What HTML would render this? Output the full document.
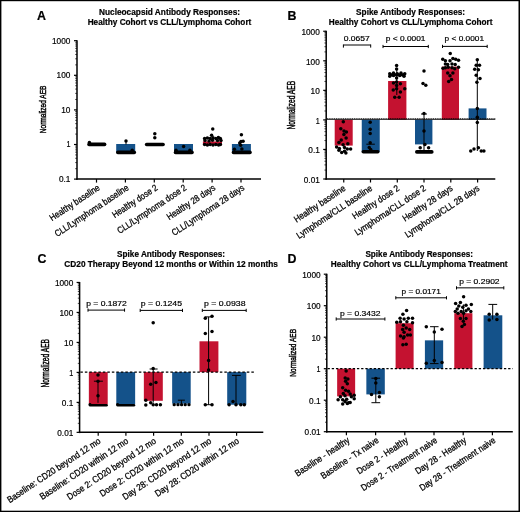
<!DOCTYPE html>
<html><head><meta charset="utf-8"><style>
html,body{margin:0;padding:0;background:#fff;width:520px;height:512px;overflow:hidden;}
svg{display:block;font-family:"Liberation Sans", sans-serif;will-change:transform;}
text{stroke:#000;stroke-width:0.18px;}
text[font-weight="bold"]{stroke-width:0.2px;}
g text{stroke-width:1.2px;}
text.xl{stroke-width:0.28px;}
</style></head><body>
<svg width="520" height="512" viewBox="0 0 520 512" font-family='"Liberation Sans", sans-serif'>
<rect x="0" y="0" width="520" height="512" fill="#fff"/>
<text x="169.5" y="15" font-size="8.6" text-anchor="middle" font-weight="bold" textLength="141" lengthAdjust="spacingAndGlyphs">Nucleocapsid Antibody Responses:</text>
<text x="169.5" y="24.9" font-size="8.6" text-anchor="middle" font-weight="bold" textLength="163.7" lengthAdjust="spacingAndGlyphs">Healthy Cohort vs CLL/Lymphoma Cohort</text>
<text x="37" y="20" font-size="12.4" text-anchor="start" font-weight="bold">A</text>
<line x1="77" y1="40.2" x2="77" y2="179.85" stroke="#000" stroke-width="1.5"/>
<line x1="76.25" y1="179.1" x2="261" y2="179.1" stroke="#000" stroke-width="1.5"/>
<line x1="74" y1="179.1" x2="77" y2="179.1" stroke="#000" stroke-width="1.2"/>
<line x1="75.2" y1="168.68" x2="77" y2="168.68" stroke="#000" stroke-width="0.7"/>
<line x1="75.2" y1="162.59" x2="77" y2="162.59" stroke="#000" stroke-width="0.7"/>
<line x1="75.2" y1="158.27" x2="77" y2="158.27" stroke="#000" stroke-width="0.7"/>
<line x1="75.2" y1="154.92" x2="77" y2="154.92" stroke="#000" stroke-width="0.7"/>
<line x1="75.2" y1="152.18" x2="77" y2="152.18" stroke="#000" stroke-width="0.7"/>
<line x1="75.2" y1="149.86" x2="77" y2="149.86" stroke="#000" stroke-width="0.7"/>
<line x1="75.2" y1="147.85" x2="77" y2="147.85" stroke="#000" stroke-width="0.7"/>
<line x1="75.2" y1="146.08" x2="77" y2="146.08" stroke="#000" stroke-width="0.7"/>
<line x1="74" y1="144.5" x2="77" y2="144.5" stroke="#000" stroke-width="1.2"/>
<line x1="75.2" y1="134.08" x2="77" y2="134.08" stroke="#000" stroke-width="0.7"/>
<line x1="75.2" y1="127.99" x2="77" y2="127.99" stroke="#000" stroke-width="0.7"/>
<line x1="75.2" y1="123.67" x2="77" y2="123.67" stroke="#000" stroke-width="0.7"/>
<line x1="75.2" y1="120.32" x2="77" y2="120.32" stroke="#000" stroke-width="0.7"/>
<line x1="75.2" y1="117.58" x2="77" y2="117.58" stroke="#000" stroke-width="0.7"/>
<line x1="75.2" y1="115.26" x2="77" y2="115.26" stroke="#000" stroke-width="0.7"/>
<line x1="75.2" y1="113.25" x2="77" y2="113.25" stroke="#000" stroke-width="0.7"/>
<line x1="75.2" y1="111.48" x2="77" y2="111.48" stroke="#000" stroke-width="0.7"/>
<line x1="74" y1="109.9" x2="77" y2="109.9" stroke="#000" stroke-width="1.2"/>
<line x1="75.2" y1="99.48" x2="77" y2="99.48" stroke="#000" stroke-width="0.7"/>
<line x1="75.2" y1="93.39" x2="77" y2="93.39" stroke="#000" stroke-width="0.7"/>
<line x1="75.2" y1="89.07" x2="77" y2="89.07" stroke="#000" stroke-width="0.7"/>
<line x1="75.2" y1="85.72" x2="77" y2="85.72" stroke="#000" stroke-width="0.7"/>
<line x1="75.2" y1="82.98" x2="77" y2="82.98" stroke="#000" stroke-width="0.7"/>
<line x1="75.2" y1="80.66" x2="77" y2="80.66" stroke="#000" stroke-width="0.7"/>
<line x1="75.2" y1="78.65" x2="77" y2="78.65" stroke="#000" stroke-width="0.7"/>
<line x1="75.2" y1="76.88" x2="77" y2="76.88" stroke="#000" stroke-width="0.7"/>
<line x1="74" y1="75.3" x2="77" y2="75.3" stroke="#000" stroke-width="1.2"/>
<line x1="75.2" y1="64.88" x2="77" y2="64.88" stroke="#000" stroke-width="0.7"/>
<line x1="75.2" y1="58.79" x2="77" y2="58.79" stroke="#000" stroke-width="0.7"/>
<line x1="75.2" y1="54.47" x2="77" y2="54.47" stroke="#000" stroke-width="0.7"/>
<line x1="75.2" y1="51.12" x2="77" y2="51.12" stroke="#000" stroke-width="0.7"/>
<line x1="75.2" y1="48.38" x2="77" y2="48.38" stroke="#000" stroke-width="0.7"/>
<line x1="75.2" y1="46.06" x2="77" y2="46.06" stroke="#000" stroke-width="0.7"/>
<line x1="75.2" y1="44.05" x2="77" y2="44.05" stroke="#000" stroke-width="0.7"/>
<line x1="75.2" y1="42.28" x2="77" y2="42.28" stroke="#000" stroke-width="0.7"/>
<line x1="74" y1="40.7" x2="77" y2="40.7" stroke="#000" stroke-width="1.2"/>
<line x1="96.5" y1="179.1" x2="96.5" y2="182.6" stroke="#000" stroke-width="1.2"/>
<line x1="125.4" y1="179.1" x2="125.4" y2="182.6" stroke="#000" stroke-width="1.2"/>
<line x1="154.3" y1="179.1" x2="154.3" y2="182.6" stroke="#000" stroke-width="1.2"/>
<line x1="183.2" y1="179.1" x2="183.2" y2="182.6" stroke="#000" stroke-width="1.2"/>
<line x1="212.1" y1="179.1" x2="212.1" y2="182.6" stroke="#000" stroke-width="1.2"/>
<line x1="241" y1="179.1" x2="241" y2="182.6" stroke="#000" stroke-width="1.2"/>
<text x="70.4" y="182.05" font-size="8.2" text-anchor="end" textLength="11.5" lengthAdjust="spacingAndGlyphs">0.1</text>
<text x="70.4" y="147.45" font-size="8.2" text-anchor="end" textLength="4" lengthAdjust="spacingAndGlyphs">1</text>
<text x="70.4" y="112.85" font-size="8.2" text-anchor="end" textLength="9.2" lengthAdjust="spacingAndGlyphs">10</text>
<text x="70.4" y="78.25" font-size="8.2" text-anchor="end" textLength="13.8" lengthAdjust="spacingAndGlyphs">100</text>
<text x="70.4" y="43.65" font-size="8.2" text-anchor="end" textLength="18.4" lengthAdjust="spacingAndGlyphs">1000</text>
<g transform="translate(45.8 109.4) scale(0.375 0.25) rotate(-90)"><text x="0" y="0" font-size="26.15" text-anchor="middle">Normalized AEB</text></g>
<text class="xl" x="0" y="0" font-size="9.2" text-anchor="end" textLength="58.04" lengthAdjust="spacingAndGlyphs" transform="translate(100.5 189.3) rotate(-33.5)">Healthy baseline</text>
<text class="xl" x="0" y="0" font-size="9.2" text-anchor="end" textLength="86.54" lengthAdjust="spacingAndGlyphs" transform="translate(129.4 189.3) rotate(-33.5)">CLL/Lymphoma baseline</text>
<text class="xl" x="0" y="0" font-size="9.2" text-anchor="end" textLength="52.36" lengthAdjust="spacingAndGlyphs" transform="translate(158.3 189.3) rotate(-33.5)">Healthy dose 2</text>
<text class="xl" x="0" y="0" font-size="9.2" text-anchor="end" textLength="80.87" lengthAdjust="spacingAndGlyphs" transform="translate(187.2 189.3) rotate(-33.5)">CLL/Lymphoma dose 2</text>
<text class="xl" x="0" y="0" font-size="9.2" text-anchor="end" textLength="56.29" lengthAdjust="spacingAndGlyphs" transform="translate(216.1 189.3) rotate(-33.5)">Healthy 28 days</text>
<text class="xl" x="0" y="0" font-size="9.2" text-anchor="end" textLength="84.79" lengthAdjust="spacingAndGlyphs" transform="translate(245 189.3) rotate(-33.5)">CLL/Lymphoma 28 days</text>
<line x1="89" y1="144.4" x2="104.6" y2="144.4" stroke="#000" stroke-width="3.6" stroke-linecap="round"/>
<circle cx="89.4" cy="142.6" r="1.75"/>
<rect x="116.2" y="144" width="19" height="8.4" fill="#14528a"/>
<line x1="117.8" y1="152.4" x2="134.3" y2="152.4" stroke="#000" stroke-width="3.6" stroke-linecap="round"/>
<circle cx="126" cy="141" r="1.75"/>
<circle cx="132.2" cy="150.2" r="1.75"/>
<line x1="126" y1="141" x2="126" y2="144.5" stroke="#000" stroke-width="1"/>
<line x1="146.6" y1="144.5" x2="163.1" y2="144.5" stroke="#000" stroke-width="3.6" stroke-linecap="round"/>
<circle cx="154.8" cy="133.7" r="1.75"/>
<circle cx="154.8" cy="137.75" r="1.75"/>
<rect x="174" y="144" width="19" height="8.4" fill="#14528a"/>
<line x1="175.5" y1="152.4" x2="192" y2="152.4" stroke="#000" stroke-width="3.6" stroke-linecap="round"/>
<circle cx="183.6" cy="146.5" r="1.75"/>
<circle cx="176" cy="150.2" r="1.75"/>
<circle cx="189.9" cy="150.2" r="1.75"/>
<rect x="202.9" y="141.4" width="19.1" height="3.1" fill="#c41230"/>
<circle cx="212.75" cy="129.1" r="1.75"/>
<circle cx="211.6" cy="135.25" r="1.75"/>
<circle cx="204.6" cy="138.4" r="1.75"/>
<circle cx="207.4" cy="138" r="1.75"/>
<circle cx="210.2" cy="138.6" r="1.75"/>
<circle cx="213" cy="137.8" r="1.75"/>
<circle cx="215.8" cy="138.4" r="1.75"/>
<circle cx="218.4" cy="137.6" r="1.75"/>
<circle cx="220.3" cy="138.6" r="1.75"/>
<circle cx="205" cy="140.6" r="1.75"/>
<circle cx="209" cy="141" r="1.75"/>
<circle cx="212.5" cy="140.2" r="1.75"/>
<circle cx="217.5" cy="140.6" r="1.75"/>
<circle cx="221" cy="140.4" r="1.75"/>
<circle cx="204.6" cy="144.6" r="1.75"/>
<circle cx="207.4" cy="145" r="1.75"/>
<circle cx="210.2" cy="144.4" r="1.75"/>
<circle cx="213" cy="145" r="1.75"/>
<circle cx="215.8" cy="144.5" r="1.75"/>
<circle cx="218.6" cy="145" r="1.75"/>
<circle cx="220.4" cy="144.5" r="1.75"/>
<rect x="231.9" y="144" width="19" height="8.4" fill="#14528a"/>
<line x1="233.5" y1="152.4" x2="250" y2="152.4" stroke="#000" stroke-width="3.6" stroke-linecap="round"/>
<circle cx="241.4" cy="134.75" r="1.75"/>
<circle cx="243.1" cy="141.2" r="1.75"/>
<circle cx="241" cy="141.5" r="1.75"/>
<circle cx="239.7" cy="143" r="1.75"/>
<circle cx="240.6" cy="145.25" r="1.75"/>
<circle cx="241.9" cy="149" r="1.75"/>
<circle cx="234.4" cy="149.3" r="1.75"/>
<text x="410.6" y="15.2" font-size="8.6" text-anchor="middle" font-weight="bold" textLength="109" lengthAdjust="spacingAndGlyphs">Spike Antibody Responses:</text>
<text x="410.6" y="24.9" font-size="8.6" text-anchor="middle" font-weight="bold" textLength="163.8" lengthAdjust="spacingAndGlyphs">Healthy Cohort vs CLL/Lymphoma Cohort</text>
<text x="287.6" y="19.6" font-size="12.4" text-anchor="start" font-weight="bold">B</text>
<line x1="326.2" y1="30.75" x2="326.2" y2="179.75" stroke="#000" stroke-width="1.5"/>
<line x1="325.45" y1="179" x2="495.3" y2="179" stroke="#000" stroke-width="1.5"/>
<line x1="323.2" y1="179" x2="326.2" y2="179" stroke="#000" stroke-width="1.2"/>
<line x1="324.4" y1="170.1" x2="326.2" y2="170.1" stroke="#000" stroke-width="0.7"/>
<line x1="324.4" y1="164.9" x2="326.2" y2="164.9" stroke="#000" stroke-width="0.7"/>
<line x1="324.4" y1="161.21" x2="326.2" y2="161.21" stroke="#000" stroke-width="0.7"/>
<line x1="324.4" y1="158.35" x2="326.2" y2="158.35" stroke="#000" stroke-width="0.7"/>
<line x1="324.4" y1="156.01" x2="326.2" y2="156.01" stroke="#000" stroke-width="0.7"/>
<line x1="324.4" y1="154.03" x2="326.2" y2="154.03" stroke="#000" stroke-width="0.7"/>
<line x1="324.4" y1="152.31" x2="326.2" y2="152.31" stroke="#000" stroke-width="0.7"/>
<line x1="324.4" y1="150.8" x2="326.2" y2="150.8" stroke="#000" stroke-width="0.7"/>
<line x1="323.2" y1="149.45" x2="326.2" y2="149.45" stroke="#000" stroke-width="1.2"/>
<line x1="324.4" y1="140.55" x2="326.2" y2="140.55" stroke="#000" stroke-width="0.7"/>
<line x1="324.4" y1="135.35" x2="326.2" y2="135.35" stroke="#000" stroke-width="0.7"/>
<line x1="324.4" y1="131.66" x2="326.2" y2="131.66" stroke="#000" stroke-width="0.7"/>
<line x1="324.4" y1="128.8" x2="326.2" y2="128.8" stroke="#000" stroke-width="0.7"/>
<line x1="324.4" y1="126.46" x2="326.2" y2="126.46" stroke="#000" stroke-width="0.7"/>
<line x1="324.4" y1="124.48" x2="326.2" y2="124.48" stroke="#000" stroke-width="0.7"/>
<line x1="324.4" y1="122.76" x2="326.2" y2="122.76" stroke="#000" stroke-width="0.7"/>
<line x1="324.4" y1="121.25" x2="326.2" y2="121.25" stroke="#000" stroke-width="0.7"/>
<line x1="323.2" y1="119.9" x2="326.2" y2="119.9" stroke="#000" stroke-width="1.2"/>
<line x1="324.4" y1="111" x2="326.2" y2="111" stroke="#000" stroke-width="0.7"/>
<line x1="324.4" y1="105.8" x2="326.2" y2="105.8" stroke="#000" stroke-width="0.7"/>
<line x1="324.4" y1="102.11" x2="326.2" y2="102.11" stroke="#000" stroke-width="0.7"/>
<line x1="324.4" y1="99.25" x2="326.2" y2="99.25" stroke="#000" stroke-width="0.7"/>
<line x1="324.4" y1="96.91" x2="326.2" y2="96.91" stroke="#000" stroke-width="0.7"/>
<line x1="324.4" y1="94.93" x2="326.2" y2="94.93" stroke="#000" stroke-width="0.7"/>
<line x1="324.4" y1="93.21" x2="326.2" y2="93.21" stroke="#000" stroke-width="0.7"/>
<line x1="324.4" y1="91.7" x2="326.2" y2="91.7" stroke="#000" stroke-width="0.7"/>
<line x1="323.2" y1="90.35" x2="326.2" y2="90.35" stroke="#000" stroke-width="1.2"/>
<line x1="324.4" y1="81.45" x2="326.2" y2="81.45" stroke="#000" stroke-width="0.7"/>
<line x1="324.4" y1="76.25" x2="326.2" y2="76.25" stroke="#000" stroke-width="0.7"/>
<line x1="324.4" y1="72.56" x2="326.2" y2="72.56" stroke="#000" stroke-width="0.7"/>
<line x1="324.4" y1="69.7" x2="326.2" y2="69.7" stroke="#000" stroke-width="0.7"/>
<line x1="324.4" y1="67.36" x2="326.2" y2="67.36" stroke="#000" stroke-width="0.7"/>
<line x1="324.4" y1="65.38" x2="326.2" y2="65.38" stroke="#000" stroke-width="0.7"/>
<line x1="324.4" y1="63.66" x2="326.2" y2="63.66" stroke="#000" stroke-width="0.7"/>
<line x1="324.4" y1="62.15" x2="326.2" y2="62.15" stroke="#000" stroke-width="0.7"/>
<line x1="323.2" y1="60.8" x2="326.2" y2="60.8" stroke="#000" stroke-width="1.2"/>
<line x1="324.4" y1="51.9" x2="326.2" y2="51.9" stroke="#000" stroke-width="0.7"/>
<line x1="324.4" y1="46.7" x2="326.2" y2="46.7" stroke="#000" stroke-width="0.7"/>
<line x1="324.4" y1="43.01" x2="326.2" y2="43.01" stroke="#000" stroke-width="0.7"/>
<line x1="324.4" y1="40.15" x2="326.2" y2="40.15" stroke="#000" stroke-width="0.7"/>
<line x1="324.4" y1="37.81" x2="326.2" y2="37.81" stroke="#000" stroke-width="0.7"/>
<line x1="324.4" y1="35.83" x2="326.2" y2="35.83" stroke="#000" stroke-width="0.7"/>
<line x1="324.4" y1="34.11" x2="326.2" y2="34.11" stroke="#000" stroke-width="0.7"/>
<line x1="324.4" y1="32.6" x2="326.2" y2="32.6" stroke="#000" stroke-width="0.7"/>
<line x1="323.2" y1="31.25" x2="326.2" y2="31.25" stroke="#000" stroke-width="1.2"/>
<line x1="343.75" y1="179" x2="343.75" y2="182.5" stroke="#000" stroke-width="1.2"/>
<line x1="370.5" y1="179" x2="370.5" y2="182.5" stroke="#000" stroke-width="1.2"/>
<line x1="397.3" y1="179" x2="397.3" y2="182.5" stroke="#000" stroke-width="1.2"/>
<line x1="424" y1="179" x2="424" y2="182.5" stroke="#000" stroke-width="1.2"/>
<line x1="450.8" y1="179" x2="450.8" y2="182.5" stroke="#000" stroke-width="1.2"/>
<line x1="477.6" y1="179" x2="477.6" y2="182.5" stroke="#000" stroke-width="1.2"/>
<text x="319.8" y="182.85" font-size="8.2" text-anchor="end" textLength="16" lengthAdjust="spacingAndGlyphs">0.01</text>
<text x="319.8" y="153.3" font-size="8.2" text-anchor="end" textLength="11.5" lengthAdjust="spacingAndGlyphs">0.1</text>
<text x="319.8" y="123.75" font-size="8.2" text-anchor="end" textLength="4" lengthAdjust="spacingAndGlyphs">1</text>
<text x="319.8" y="94.2" font-size="8.2" text-anchor="end" textLength="9.2" lengthAdjust="spacingAndGlyphs">10</text>
<text x="319.8" y="64.65" font-size="8.2" text-anchor="end" textLength="13.8" lengthAdjust="spacingAndGlyphs">100</text>
<text x="319.8" y="35.1" font-size="8.2" text-anchor="end" textLength="18.4" lengthAdjust="spacingAndGlyphs">1000</text>
<g transform="translate(294.85 105.1) scale(0.375 0.25) rotate(-90)"><text x="0" y="0" font-size="26.81" text-anchor="middle">Normalized AEB</text></g>
<text class="xl" x="0" y="0" font-size="9.2" text-anchor="end" textLength="59.88" lengthAdjust="spacingAndGlyphs" transform="translate(346.35 189.8) rotate(-33.5)">Healthy baseline</text>
<text class="xl" x="0" y="0" font-size="9.2" text-anchor="end" textLength="89" lengthAdjust="spacingAndGlyphs" transform="translate(373.1 189.8) rotate(-33.5)">Lymphoma/CLL baseline</text>
<text class="xl" x="0" y="0" font-size="9.2" text-anchor="end" textLength="54.03" lengthAdjust="spacingAndGlyphs" transform="translate(399.9 189.8) rotate(-33.5)">Healthy dose 2</text>
<text class="xl" x="0" y="0" font-size="9.2" text-anchor="end" textLength="83.14" lengthAdjust="spacingAndGlyphs" transform="translate(426.6 189.8) rotate(-33.5)">Lymphoma/CLL dose 2</text>
<text class="xl" x="0" y="0" font-size="9.2" text-anchor="end" textLength="58.08" lengthAdjust="spacingAndGlyphs" transform="translate(453.4 189.8) rotate(-33.5)">Healthy 28 days</text>
<text class="xl" x="0" y="0" font-size="9.2" text-anchor="end" textLength="87.19" lengthAdjust="spacingAndGlyphs" transform="translate(480.2 189.8) rotate(-33.5)">Lymphoma/CLL 28 days</text>
<rect x="334.7" y="119.7" width="18" height="25.9" fill="#c41230"/>
<circle cx="343.3" cy="121.7" r="1.75"/>
<circle cx="340.8" cy="128.75" r="1.75"/>
<circle cx="344" cy="131.1" r="1.75"/>
<circle cx="346.4" cy="132" r="1.75"/>
<circle cx="343.9" cy="134.4" r="1.75"/>
<circle cx="346.1" cy="138.1" r="1.75"/>
<circle cx="341.25" cy="140" r="1.75"/>
<circle cx="338.9" cy="142.6" r="1.75"/>
<circle cx="347.8" cy="143.75" r="1.75"/>
<circle cx="343.1" cy="144.7" r="1.75"/>
<circle cx="336.6" cy="147" r="1.75"/>
<circle cx="339.4" cy="148.4" r="1.75"/>
<circle cx="344.5" cy="147.5" r="1.75"/>
<circle cx="347.3" cy="148.9" r="1.75"/>
<circle cx="350.6" cy="148.9" r="1.75"/>
<circle cx="338.9" cy="150.3" r="1.75"/>
<circle cx="341.7" cy="152.6" r="1.75"/>
<circle cx="345.9" cy="153.1" r="1.75"/>
<circle cx="344.5" cy="151.25" r="1.75"/>
<rect x="361.75" y="119.7" width="18" height="32" fill="#14528a"/>
<circle cx="370.2" cy="122.2" r="1.75"/>
<circle cx="370.2" cy="129.2" r="1.75"/>
<circle cx="370.2" cy="133.4" r="1.75"/>
<circle cx="370.2" cy="142.8" r="1.75"/>
<circle cx="369.25" cy="147.5" r="1.75"/>
<circle cx="370.7" cy="149.4" r="1.75"/>
<line x1="366.35" y1="144.2" x2="374.85" y2="144.2" stroke="#000" stroke-width="1"/>
<line x1="363.3" y1="151.7" x2="377.8" y2="151.7" stroke="#000" stroke-width="3.6" stroke-linecap="round"/>
<rect x="388.1" y="81" width="18.3" height="38.7" fill="#c41230"/>
<line x1="396.8" y1="70" x2="396.8" y2="95" stroke="#000" stroke-width="1"/>
<line x1="390.5" y1="74.8" x2="404" y2="74.8" stroke="#000" stroke-width="3" stroke-linecap="round"/>
<circle cx="396.6" cy="65.6" r="1.75"/>
<circle cx="396.6" cy="69" r="1.75"/>
<circle cx="389.75" cy="73.75" r="1.75"/>
<circle cx="393.5" cy="73.1" r="1.75"/>
<circle cx="397.25" cy="73.75" r="1.75"/>
<circle cx="401" cy="73.1" r="1.75"/>
<circle cx="404.75" cy="73.75" r="1.75"/>
<circle cx="389.75" cy="76.25" r="1.75"/>
<circle cx="393.5" cy="75.6" r="1.75"/>
<circle cx="399.75" cy="75.6" r="1.75"/>
<circle cx="404" cy="76.25" r="1.75"/>
<circle cx="396.6" cy="78.1" r="1.75"/>
<circle cx="393.5" cy="83.1" r="1.75"/>
<circle cx="396.6" cy="81.9" r="1.75"/>
<circle cx="400.4" cy="83.75" r="1.75"/>
<circle cx="396.6" cy="85.6" r="1.75"/>
<circle cx="396.6" cy="88.75" r="1.75"/>
<circle cx="393.25" cy="90" r="1.75"/>
<circle cx="404.75" cy="88.75" r="1.75"/>
<circle cx="400.4" cy="91.9" r="1.75"/>
<circle cx="394.75" cy="97.25" r="1.75"/>
<circle cx="399.1" cy="97.25" r="1.75"/>
<rect x="415" y="119.7" width="17.4" height="24.7" fill="#14528a"/>
<line x1="424" y1="112.5" x2="424" y2="151.9" stroke="#000" stroke-width="1"/>
<line x1="421" y1="114" x2="427" y2="114" stroke="#000" stroke-width="1"/>
<circle cx="424" cy="70.9" r="1.75"/>
<circle cx="423" cy="83.4" r="1.75"/>
<circle cx="425.8" cy="85.3" r="1.75"/>
<circle cx="424" cy="113.4" r="1.75"/>
<circle cx="424" cy="130.9" r="1.75"/>
<circle cx="424.9" cy="144.4" r="1.75"/>
<circle cx="420.2" cy="147.75" r="1.75"/>
<circle cx="428.6" cy="147.75" r="1.75"/>
<line x1="416.8" y1="151.9" x2="431.8" y2="151.9" stroke="#000" stroke-width="3.6" stroke-linecap="round"/>
<rect x="441.8" y="66.6" width="17.2" height="53.1" fill="#c41230"/>
<circle cx="450.25" cy="53.4" r="1.75"/>
<circle cx="442.75" cy="59.3" r="1.75"/>
<circle cx="445.4" cy="60.75" r="1.75"/>
<circle cx="452.9" cy="58.4" r="1.75"/>
<circle cx="455.7" cy="59.3" r="1.75"/>
<circle cx="458.5" cy="60.3" r="1.75"/>
<circle cx="450" cy="60.75" r="1.75"/>
<circle cx="445.4" cy="64" r="1.75"/>
<circle cx="447.7" cy="64.5" r="1.75"/>
<circle cx="452" cy="64" r="1.75"/>
<circle cx="455.2" cy="64.5" r="1.75"/>
<circle cx="443" cy="68.25" r="1.75"/>
<circle cx="445.4" cy="67.8" r="1.75"/>
<circle cx="448.2" cy="67.3" r="1.75"/>
<circle cx="452" cy="67.8" r="1.75"/>
<circle cx="454.75" cy="68.7" r="1.75"/>
<circle cx="458.5" cy="67.3" r="1.75"/>
<circle cx="447.7" cy="73" r="1.75"/>
<circle cx="452.9" cy="73" r="1.75"/>
<circle cx="450" cy="75.75" r="1.75"/>
<circle cx="451.5" cy="79.5" r="1.75"/>
<circle cx="448.7" cy="81.4" r="1.75"/>
<rect x="468.6" y="108.4" width="17.9" height="11.3" fill="#14528a"/>
<line x1="477.3" y1="59.8" x2="477.3" y2="151" stroke="#000" stroke-width="1"/>
<circle cx="477.3" cy="59.8" r="1.75"/>
<circle cx="476.2" cy="65.3" r="1.75"/>
<circle cx="479.5" cy="65.3" r="1.75"/>
<circle cx="474.7" cy="69.25" r="1.75"/>
<circle cx="478.4" cy="69.7" r="1.75"/>
<circle cx="476.2" cy="75.2" r="1.75"/>
<circle cx="480" cy="78.4" r="1.75"/>
<circle cx="476.9" cy="82.2" r="1.75"/>
<circle cx="477.3" cy="108.4" r="1.75"/>
<circle cx="477.3" cy="117.2" r="1.75"/>
<circle cx="477.3" cy="122.6" r="1.75"/>
<circle cx="470.75" cy="151" r="1.75"/>
<circle cx="474" cy="148.9" r="1.75"/>
<circle cx="478.4" cy="147.8" r="1.75"/>
<circle cx="481.25" cy="151" r="1.75"/>
<circle cx="483.9" cy="151" r="1.75"/>
<line x1="326.95" y1="119.3" x2="495.3" y2="119.3" stroke="#000" stroke-width="0.9" stroke-dasharray="none"/>
<line x1="326.95" y1="118.7" x2="495.3" y2="118.7" stroke="#000" stroke-width="0.9" stroke-dasharray="0.9 0.9"/>
<line x1="343.4" y1="45" x2="370.7" y2="45" stroke="#000" stroke-width="1"/>
<line x1="343.4" y1="44.5" x2="343.4" y2="47.6" stroke="#000" stroke-width="1"/>
<line x1="370.7" y1="44.5" x2="370.7" y2="47.6" stroke="#000" stroke-width="1"/>
<text x="356.77" y="41.3" font-size="6.9" text-anchor="middle" textLength="26.05" lengthAdjust="spacingAndGlyphs">0.0657</text>
<line x1="383" y1="46.5" x2="428.3" y2="46.5" stroke="#000" stroke-width="1"/>
<line x1="383" y1="44.9" x2="383" y2="48.1" stroke="#000" stroke-width="1"/>
<line x1="428.3" y1="44.9" x2="428.3" y2="48.1" stroke="#000" stroke-width="1"/>
<text x="405.65" y="41.3" font-size="6.9" text-anchor="middle" textLength="39.7" lengthAdjust="spacingAndGlyphs">p &lt; 0.0001</text>
<line x1="442.5" y1="46.4" x2="487.2" y2="46.4" stroke="#000" stroke-width="1"/>
<line x1="442.5" y1="44.8" x2="442.5" y2="48" stroke="#000" stroke-width="1"/>
<line x1="487.2" y1="44.8" x2="487.2" y2="48" stroke="#000" stroke-width="1"/>
<text x="464.3" y="41.3" font-size="6.9" text-anchor="middle" textLength="39.4" lengthAdjust="spacingAndGlyphs">p &lt; 0.0001</text>
<text x="171.1" y="257" font-size="8.6" text-anchor="middle" font-weight="bold" textLength="108" lengthAdjust="spacingAndGlyphs">Spike Antibody Responses:</text>
<text x="171.1" y="266.8" font-size="8.6" text-anchor="middle" font-weight="bold" textLength="213.5" lengthAdjust="spacingAndGlyphs">CD20 Therapy Beyond 12 months or Within 12 months</text>
<text x="37.6" y="262.6" font-size="12.4" text-anchor="start" font-weight="bold">C</text>
<line x1="79.6" y1="281.96" x2="79.6" y2="433.11" stroke="#000" stroke-width="1.5"/>
<line x1="78.85" y1="432.36" x2="263.3" y2="432.36" stroke="#000" stroke-width="1.5"/>
<line x1="76.6" y1="432.36" x2="79.6" y2="432.36" stroke="#000" stroke-width="1.2"/>
<line x1="77.8" y1="423.34" x2="79.6" y2="423.34" stroke="#000" stroke-width="0.7"/>
<line x1="77.8" y1="418.06" x2="79.6" y2="418.06" stroke="#000" stroke-width="0.7"/>
<line x1="77.8" y1="414.31" x2="79.6" y2="414.31" stroke="#000" stroke-width="0.7"/>
<line x1="77.8" y1="411.4" x2="79.6" y2="411.4" stroke="#000" stroke-width="0.7"/>
<line x1="77.8" y1="409.03" x2="79.6" y2="409.03" stroke="#000" stroke-width="0.7"/>
<line x1="77.8" y1="407.02" x2="79.6" y2="407.02" stroke="#000" stroke-width="0.7"/>
<line x1="77.8" y1="405.29" x2="79.6" y2="405.29" stroke="#000" stroke-width="0.7"/>
<line x1="77.8" y1="403.75" x2="79.6" y2="403.75" stroke="#000" stroke-width="0.7"/>
<line x1="76.6" y1="402.38" x2="79.6" y2="402.38" stroke="#000" stroke-width="1.2"/>
<line x1="77.8" y1="393.36" x2="79.6" y2="393.36" stroke="#000" stroke-width="0.7"/>
<line x1="77.8" y1="388.08" x2="79.6" y2="388.08" stroke="#000" stroke-width="0.7"/>
<line x1="77.8" y1="384.33" x2="79.6" y2="384.33" stroke="#000" stroke-width="0.7"/>
<line x1="77.8" y1="381.42" x2="79.6" y2="381.42" stroke="#000" stroke-width="0.7"/>
<line x1="77.8" y1="379.05" x2="79.6" y2="379.05" stroke="#000" stroke-width="0.7"/>
<line x1="77.8" y1="377.04" x2="79.6" y2="377.04" stroke="#000" stroke-width="0.7"/>
<line x1="77.8" y1="375.31" x2="79.6" y2="375.31" stroke="#000" stroke-width="0.7"/>
<line x1="77.8" y1="373.77" x2="79.6" y2="373.77" stroke="#000" stroke-width="0.7"/>
<line x1="76.6" y1="372.4" x2="79.6" y2="372.4" stroke="#000" stroke-width="1.2"/>
<line x1="77.8" y1="363.38" x2="79.6" y2="363.38" stroke="#000" stroke-width="0.7"/>
<line x1="77.8" y1="358.1" x2="79.6" y2="358.1" stroke="#000" stroke-width="0.7"/>
<line x1="77.8" y1="354.35" x2="79.6" y2="354.35" stroke="#000" stroke-width="0.7"/>
<line x1="77.8" y1="351.44" x2="79.6" y2="351.44" stroke="#000" stroke-width="0.7"/>
<line x1="77.8" y1="349.07" x2="79.6" y2="349.07" stroke="#000" stroke-width="0.7"/>
<line x1="77.8" y1="347.06" x2="79.6" y2="347.06" stroke="#000" stroke-width="0.7"/>
<line x1="77.8" y1="345.33" x2="79.6" y2="345.33" stroke="#000" stroke-width="0.7"/>
<line x1="77.8" y1="343.79" x2="79.6" y2="343.79" stroke="#000" stroke-width="0.7"/>
<line x1="76.6" y1="342.42" x2="79.6" y2="342.42" stroke="#000" stroke-width="1.2"/>
<line x1="77.8" y1="333.4" x2="79.6" y2="333.4" stroke="#000" stroke-width="0.7"/>
<line x1="77.8" y1="328.12" x2="79.6" y2="328.12" stroke="#000" stroke-width="0.7"/>
<line x1="77.8" y1="324.37" x2="79.6" y2="324.37" stroke="#000" stroke-width="0.7"/>
<line x1="77.8" y1="321.46" x2="79.6" y2="321.46" stroke="#000" stroke-width="0.7"/>
<line x1="77.8" y1="319.09" x2="79.6" y2="319.09" stroke="#000" stroke-width="0.7"/>
<line x1="77.8" y1="317.08" x2="79.6" y2="317.08" stroke="#000" stroke-width="0.7"/>
<line x1="77.8" y1="315.35" x2="79.6" y2="315.35" stroke="#000" stroke-width="0.7"/>
<line x1="77.8" y1="313.81" x2="79.6" y2="313.81" stroke="#000" stroke-width="0.7"/>
<line x1="76.6" y1="312.44" x2="79.6" y2="312.44" stroke="#000" stroke-width="1.2"/>
<line x1="77.8" y1="303.42" x2="79.6" y2="303.42" stroke="#000" stroke-width="0.7"/>
<line x1="77.8" y1="298.14" x2="79.6" y2="298.14" stroke="#000" stroke-width="0.7"/>
<line x1="77.8" y1="294.39" x2="79.6" y2="294.39" stroke="#000" stroke-width="0.7"/>
<line x1="77.8" y1="291.48" x2="79.6" y2="291.48" stroke="#000" stroke-width="0.7"/>
<line x1="77.8" y1="289.11" x2="79.6" y2="289.11" stroke="#000" stroke-width="0.7"/>
<line x1="77.8" y1="287.1" x2="79.6" y2="287.1" stroke="#000" stroke-width="0.7"/>
<line x1="77.8" y1="285.37" x2="79.6" y2="285.37" stroke="#000" stroke-width="0.7"/>
<line x1="77.8" y1="283.83" x2="79.6" y2="283.83" stroke="#000" stroke-width="0.7"/>
<line x1="76.6" y1="282.46" x2="79.6" y2="282.46" stroke="#000" stroke-width="1.2"/>
<line x1="98.2" y1="432.36" x2="98.2" y2="435.86" stroke="#000" stroke-width="1.2"/>
<line x1="125.9" y1="432.36" x2="125.9" y2="435.86" stroke="#000" stroke-width="1.2"/>
<line x1="153.6" y1="432.36" x2="153.6" y2="435.86" stroke="#000" stroke-width="1.2"/>
<line x1="181.3" y1="432.36" x2="181.3" y2="435.86" stroke="#000" stroke-width="1.2"/>
<line x1="209" y1="432.36" x2="209" y2="435.86" stroke="#000" stroke-width="1.2"/>
<line x1="236.6" y1="432.36" x2="236.6" y2="435.86" stroke="#000" stroke-width="1.2"/>
<text x="73.3" y="436.21" font-size="8.2" text-anchor="end" textLength="16" lengthAdjust="spacingAndGlyphs">0.01</text>
<text x="73.3" y="406.23" font-size="8.2" text-anchor="end" textLength="11.5" lengthAdjust="spacingAndGlyphs">0.1</text>
<text x="73.3" y="376.25" font-size="8.2" text-anchor="end" textLength="4" lengthAdjust="spacingAndGlyphs">1</text>
<text x="73.3" y="346.27" font-size="8.2" text-anchor="end" textLength="9.2" lengthAdjust="spacingAndGlyphs">10</text>
<text x="73.3" y="316.29" font-size="8.2" text-anchor="end" textLength="13.8" lengthAdjust="spacingAndGlyphs">100</text>
<text x="73.3" y="286.31" font-size="8.2" text-anchor="end" textLength="18.4" lengthAdjust="spacingAndGlyphs">1000</text>
<g transform="translate(49.45 363.2) scale(0.375 0.25) rotate(-90)"><text x="0" y="0" font-size="26.65" text-anchor="middle">Normalized AEB</text></g>
<text class="xl" x="0" y="0" font-size="9.2" text-anchor="end" textLength="109.86" lengthAdjust="spacingAndGlyphs" transform="translate(101.3 442.56) rotate(-33.5)">Baseline: CD20 beyond 12 mo</text>
<text class="xl" x="0" y="0" font-size="9.2" text-anchor="end" textLength="104" lengthAdjust="spacingAndGlyphs" transform="translate(129 442.56) rotate(-33.5)">Baseline: CD20 within 12 mo</text>
<text class="xl" x="0" y="0" font-size="9.2" text-anchor="end" textLength="104.45" lengthAdjust="spacingAndGlyphs" transform="translate(156.7 442.56) rotate(-33.5)">Dose 2: CD20 beyond 12 mo</text>
<text class="xl" x="0" y="0" font-size="9.2" text-anchor="end" textLength="98.59" lengthAdjust="spacingAndGlyphs" transform="translate(184.4 442.56) rotate(-33.5)">Dose 2: CD20 within 12 mo</text>
<text class="xl" x="0" y="0" font-size="9.2" text-anchor="end" textLength="104.45" lengthAdjust="spacingAndGlyphs" transform="translate(212.1 442.56) rotate(-33.5)">Day 28: CD20 beyond 12 mo</text>
<text class="xl" x="0" y="0" font-size="9.2" text-anchor="end" textLength="98.59" lengthAdjust="spacingAndGlyphs" transform="translate(239.7 442.56) rotate(-33.5)">Day 28: CD20 within 12 mo</text>
<rect x="88.85" y="372.1" width="18.85" height="32.4" fill="#c41230"/>
<line x1="98" y1="381.2" x2="98" y2="402.8" stroke="#000" stroke-width="1"/>
<line x1="93.9" y1="381.2" x2="102.9" y2="381.2" stroke="#000" stroke-width="1"/>
<circle cx="98" cy="375" r="1.75"/>
<circle cx="98" cy="381.2" r="1.75"/>
<circle cx="98" cy="395.8" r="1.75"/>
<circle cx="90" cy="404.3" r="1.4"/>
<line x1="90" y1="405.3" x2="106.6" y2="405.3" stroke="#000" stroke-width="2.4" stroke-linecap="round"/>
<rect x="116.3" y="372.1" width="18.85" height="32.4" fill="#14528a"/>
<circle cx="117.6" cy="404.3" r="1.4"/>
<line x1="117.6" y1="405.3" x2="134" y2="405.3" stroke="#000" stroke-width="2.4" stroke-linecap="round"/>
<rect x="143.85" y="372.1" width="18.95" height="28.7" fill="#c41230"/>
<line x1="153.2" y1="368.6" x2="153.2" y2="402.7" stroke="#000" stroke-width="1"/>
<line x1="149.6" y1="369" x2="157.6" y2="369" stroke="#000" stroke-width="1"/>
<circle cx="153.2" cy="322.7" r="1.75"/>
<circle cx="153.2" cy="368.6" r="1.75"/>
<circle cx="150.7" cy="384.2" r="1.75"/>
<circle cx="155.95" cy="382.6" r="1.75"/>
<circle cx="145.8" cy="400.2" r="1.75"/>
<circle cx="145.8" cy="405.1" r="1.75"/>
<circle cx="150.7" cy="402.7" r="1.75"/>
<circle cx="156.5" cy="404.7" r="1.75"/>
<circle cx="160.4" cy="404.7" r="1.75"/>
<circle cx="153.2" cy="404.7" r="1.75"/>
<rect x="172.15" y="372.1" width="18.55" height="31.6" fill="#14528a"/>
<line x1="177.9" y1="400.2" x2="184.9" y2="400.2" stroke="#000" stroke-width="1"/>
<line x1="181.4" y1="400.2" x2="181.4" y2="404" stroke="#000" stroke-width="1"/>
<circle cx="174.2" cy="404.7" r="1.65"/>
<circle cx="178" cy="404.7" r="1.65"/>
<circle cx="181.6" cy="404.7" r="1.65"/>
<circle cx="185.2" cy="404.7" r="1.65"/>
<circle cx="189" cy="404.7" r="1.65"/>
<rect x="199.5" y="341.3" width="18.9" height="30.8" fill="#c41230"/>
<line x1="208.6" y1="316.9" x2="208.6" y2="404.7" stroke="#000" stroke-width="1"/>
<line x1="204.6" y1="316.9" x2="212.6" y2="316.9" stroke="#000" stroke-width="1"/>
<line x1="204.6" y1="404.7" x2="212.6" y2="404.7" stroke="#000" stroke-width="1"/>
<circle cx="205.3" cy="318.2" r="1.75"/>
<circle cx="212" cy="316.3" r="1.75"/>
<circle cx="205.3" cy="333.5" r="1.75"/>
<circle cx="212" cy="331.5" r="1.75"/>
<circle cx="208.6" cy="360.4" r="1.75"/>
<circle cx="208.6" cy="370.1" r="1.75"/>
<circle cx="205.3" cy="404.7" r="1.75"/>
<circle cx="212" cy="404.7" r="1.75"/>
<rect x="227.2" y="372.1" width="19.1" height="32.6" fill="#14528a"/>
<line x1="236" y1="375.4" x2="236" y2="403.7" stroke="#000" stroke-width="1"/>
<line x1="232" y1="375.4" x2="240.8" y2="375.4" stroke="#000" stroke-width="1"/>
<circle cx="233" cy="401.4" r="1.75"/>
<circle cx="229.1" cy="404.7" r="1.75"/>
<circle cx="236" cy="404.7" r="1.75"/>
<circle cx="240.8" cy="404.7" r="1.75"/>
<circle cx="244.3" cy="404.7" r="1.75"/>
<line x1="80.35" y1="372.1" x2="255" y2="372.1" stroke="#000" stroke-width="1.3" stroke-dasharray="2.5 2"/>
<line x1="88" y1="310.1" x2="124.55" y2="310.1" stroke="#000" stroke-width="1"/>
<line x1="88" y1="308.5" x2="88" y2="311.7" stroke="#000" stroke-width="1"/>
<line x1="124.55" y1="308.5" x2="124.55" y2="311.7" stroke="#000" stroke-width="1"/>
<text x="106.47" y="305.6" font-size="6.9" text-anchor="middle" textLength="40.65" lengthAdjust="spacingAndGlyphs">p = 0.1872</text>
<line x1="140.2" y1="310.4" x2="182.5" y2="310.4" stroke="#000" stroke-width="1"/>
<line x1="140.2" y1="308.8" x2="140.2" y2="312" stroke="#000" stroke-width="1"/>
<line x1="182.5" y1="308.8" x2="182.5" y2="312" stroke="#000" stroke-width="1"/>
<text x="161.35" y="305.9" font-size="6.9" text-anchor="middle" textLength="41.3" lengthAdjust="spacingAndGlyphs">p = 0.1245</text>
<line x1="202.3" y1="310.4" x2="246.2" y2="310.4" stroke="#000" stroke-width="1"/>
<line x1="202.3" y1="308.8" x2="202.3" y2="312" stroke="#000" stroke-width="1"/>
<line x1="246.2" y1="308.8" x2="246.2" y2="312" stroke="#000" stroke-width="1"/>
<text x="224.8" y="305.9" font-size="6.9" text-anchor="middle" textLength="41.4" lengthAdjust="spacingAndGlyphs">p = 0.0938</text>
<text x="419.2" y="257" font-size="8.6" text-anchor="middle" font-weight="bold" textLength="107.5" lengthAdjust="spacingAndGlyphs">Spike Antibody Responses:</text>
<text x="419.2" y="266.8" font-size="8.6" text-anchor="middle" font-weight="bold" textLength="176.75" lengthAdjust="spacingAndGlyphs">Healthy Cohort vs CLL/Lymphoma Treatment</text>
<text x="287.6" y="262.8" font-size="12.4" text-anchor="start" font-weight="bold">D</text>
<line x1="326.8" y1="273.7" x2="326.8" y2="432.45" stroke="#000" stroke-width="1.5"/>
<line x1="326.05" y1="431.7" x2="512.8" y2="431.7" stroke="#000" stroke-width="1.5"/>
<line x1="323.8" y1="431.7" x2="326.8" y2="431.7" stroke="#000" stroke-width="1.2"/>
<line x1="325" y1="422.22" x2="326.8" y2="422.22" stroke="#000" stroke-width="0.7"/>
<line x1="325" y1="416.67" x2="326.8" y2="416.67" stroke="#000" stroke-width="0.7"/>
<line x1="325" y1="412.74" x2="326.8" y2="412.74" stroke="#000" stroke-width="0.7"/>
<line x1="325" y1="409.68" x2="326.8" y2="409.68" stroke="#000" stroke-width="0.7"/>
<line x1="325" y1="407.19" x2="326.8" y2="407.19" stroke="#000" stroke-width="0.7"/>
<line x1="325" y1="405.08" x2="326.8" y2="405.08" stroke="#000" stroke-width="0.7"/>
<line x1="325" y1="403.25" x2="326.8" y2="403.25" stroke="#000" stroke-width="0.7"/>
<line x1="325" y1="401.64" x2="326.8" y2="401.64" stroke="#000" stroke-width="0.7"/>
<line x1="323.8" y1="400.2" x2="326.8" y2="400.2" stroke="#000" stroke-width="1.2"/>
<line x1="325" y1="390.72" x2="326.8" y2="390.72" stroke="#000" stroke-width="0.7"/>
<line x1="325" y1="385.17" x2="326.8" y2="385.17" stroke="#000" stroke-width="0.7"/>
<line x1="325" y1="381.24" x2="326.8" y2="381.24" stroke="#000" stroke-width="0.7"/>
<line x1="325" y1="378.18" x2="326.8" y2="378.18" stroke="#000" stroke-width="0.7"/>
<line x1="325" y1="375.69" x2="326.8" y2="375.69" stroke="#000" stroke-width="0.7"/>
<line x1="325" y1="373.58" x2="326.8" y2="373.58" stroke="#000" stroke-width="0.7"/>
<line x1="325" y1="371.75" x2="326.8" y2="371.75" stroke="#000" stroke-width="0.7"/>
<line x1="325" y1="370.14" x2="326.8" y2="370.14" stroke="#000" stroke-width="0.7"/>
<line x1="323.8" y1="368.7" x2="326.8" y2="368.7" stroke="#000" stroke-width="1.2"/>
<line x1="325" y1="359.22" x2="326.8" y2="359.22" stroke="#000" stroke-width="0.7"/>
<line x1="325" y1="353.67" x2="326.8" y2="353.67" stroke="#000" stroke-width="0.7"/>
<line x1="325" y1="349.74" x2="326.8" y2="349.74" stroke="#000" stroke-width="0.7"/>
<line x1="325" y1="346.68" x2="326.8" y2="346.68" stroke="#000" stroke-width="0.7"/>
<line x1="325" y1="344.19" x2="326.8" y2="344.19" stroke="#000" stroke-width="0.7"/>
<line x1="325" y1="342.08" x2="326.8" y2="342.08" stroke="#000" stroke-width="0.7"/>
<line x1="325" y1="340.25" x2="326.8" y2="340.25" stroke="#000" stroke-width="0.7"/>
<line x1="325" y1="338.64" x2="326.8" y2="338.64" stroke="#000" stroke-width="0.7"/>
<line x1="323.8" y1="337.2" x2="326.8" y2="337.2" stroke="#000" stroke-width="1.2"/>
<line x1="325" y1="327.72" x2="326.8" y2="327.72" stroke="#000" stroke-width="0.7"/>
<line x1="325" y1="322.17" x2="326.8" y2="322.17" stroke="#000" stroke-width="0.7"/>
<line x1="325" y1="318.24" x2="326.8" y2="318.24" stroke="#000" stroke-width="0.7"/>
<line x1="325" y1="315.18" x2="326.8" y2="315.18" stroke="#000" stroke-width="0.7"/>
<line x1="325" y1="312.69" x2="326.8" y2="312.69" stroke="#000" stroke-width="0.7"/>
<line x1="325" y1="310.58" x2="326.8" y2="310.58" stroke="#000" stroke-width="0.7"/>
<line x1="325" y1="308.75" x2="326.8" y2="308.75" stroke="#000" stroke-width="0.7"/>
<line x1="325" y1="307.14" x2="326.8" y2="307.14" stroke="#000" stroke-width="0.7"/>
<line x1="323.8" y1="305.7" x2="326.8" y2="305.7" stroke="#000" stroke-width="1.2"/>
<line x1="325" y1="296.22" x2="326.8" y2="296.22" stroke="#000" stroke-width="0.7"/>
<line x1="325" y1="290.67" x2="326.8" y2="290.67" stroke="#000" stroke-width="0.7"/>
<line x1="325" y1="286.74" x2="326.8" y2="286.74" stroke="#000" stroke-width="0.7"/>
<line x1="325" y1="283.68" x2="326.8" y2="283.68" stroke="#000" stroke-width="0.7"/>
<line x1="325" y1="281.19" x2="326.8" y2="281.19" stroke="#000" stroke-width="0.7"/>
<line x1="325" y1="279.08" x2="326.8" y2="279.08" stroke="#000" stroke-width="0.7"/>
<line x1="325" y1="277.25" x2="326.8" y2="277.25" stroke="#000" stroke-width="0.7"/>
<line x1="325" y1="275.64" x2="326.8" y2="275.64" stroke="#000" stroke-width="0.7"/>
<line x1="323.8" y1="274.2" x2="326.8" y2="274.2" stroke="#000" stroke-width="1.2"/>
<line x1="346.4" y1="431.7" x2="346.4" y2="435.2" stroke="#000" stroke-width="1.2"/>
<line x1="375.6" y1="431.7" x2="375.6" y2="435.2" stroke="#000" stroke-width="1.2"/>
<line x1="404.8" y1="431.7" x2="404.8" y2="435.2" stroke="#000" stroke-width="1.2"/>
<line x1="434" y1="431.7" x2="434" y2="435.2" stroke="#000" stroke-width="1.2"/>
<line x1="463.2" y1="431.7" x2="463.2" y2="435.2" stroke="#000" stroke-width="1.2"/>
<line x1="492.4" y1="431.7" x2="492.4" y2="435.2" stroke="#000" stroke-width="1.2"/>
<text x="320.6" y="435.25" font-size="8.2" text-anchor="end" textLength="16" lengthAdjust="spacingAndGlyphs">0.01</text>
<text x="320.6" y="403.75" font-size="8.2" text-anchor="end" textLength="11.5" lengthAdjust="spacingAndGlyphs">0.1</text>
<text x="320.6" y="372.25" font-size="8.2" text-anchor="end" textLength="4" lengthAdjust="spacingAndGlyphs">1</text>
<text x="320.6" y="340.75" font-size="8.2" text-anchor="end" textLength="9.2" lengthAdjust="spacingAndGlyphs">10</text>
<text x="320.6" y="309.25" font-size="8.2" text-anchor="end" textLength="13.8" lengthAdjust="spacingAndGlyphs">100</text>
<text x="320.6" y="277.75" font-size="8.2" text-anchor="end" textLength="18.4" lengthAdjust="spacingAndGlyphs">1000</text>
<g transform="translate(296.25 352.8) scale(0.375 0.25) rotate(-90)"><text x="0" y="0" font-size="26.26" text-anchor="middle">Normalized AEB</text></g>
<text class="xl" x="0" y="0" font-size="9.2" text-anchor="end" textLength="63.19" lengthAdjust="spacingAndGlyphs" transform="translate(350.3 441.9) rotate(-33.5)">Baseline - healthy</text>
<text class="xl" x="0" y="0" font-size="9.2" text-anchor="end" textLength="67.46" lengthAdjust="spacingAndGlyphs" transform="translate(379.5 441.9) rotate(-33.5)">Baseline - Tx naive</text>
<text class="xl" x="0" y="0" font-size="9.2" text-anchor="end" textLength="59.21" lengthAdjust="spacingAndGlyphs" transform="translate(408.7 441.9) rotate(-33.5)">Dose 2 - Healthy</text>
<text class="xl" x="0" y="0" font-size="9.2" text-anchor="end" textLength="89.25" lengthAdjust="spacingAndGlyphs" transform="translate(437.9 441.9) rotate(-33.5)">Dose 2 - Treatment naive</text>
<text class="xl" x="0" y="0" font-size="9.2" text-anchor="end" textLength="59.21" lengthAdjust="spacingAndGlyphs" transform="translate(467.1 441.9) rotate(-33.5)">Day 28 - Healthy</text>
<text class="xl" x="0" y="0" font-size="9.2" text-anchor="end" textLength="89.25" lengthAdjust="spacingAndGlyphs" transform="translate(496.3 441.9) rotate(-33.5)">Day 28 - Treatment naive</text>
<rect x="337.15" y="368.7" width="18" height="27.65" fill="#c41230"/>
<circle cx="346.15" cy="371" r="1.75"/>
<circle cx="345.2" cy="377.9" r="1.75"/>
<circle cx="347.9" cy="379" r="1.75"/>
<circle cx="345.6" cy="381.35" r="1.75"/>
<circle cx="347.3" cy="383.65" r="1.75"/>
<circle cx="342.7" cy="387.7" r="1.75"/>
<circle cx="345.6" cy="390.2" r="1.75"/>
<circle cx="348.5" cy="391.15" r="1.75"/>
<circle cx="343.3" cy="393.5" r="1.75"/>
<circle cx="350.2" cy="394" r="1.75"/>
<circle cx="354.2" cy="395.2" r="1.75"/>
<circle cx="340.4" cy="396.7" r="1.75"/>
<circle cx="345" cy="395.8" r="1.75"/>
<circle cx="338.1" cy="399.8" r="1.75"/>
<circle cx="342.7" cy="399.8" r="1.75"/>
<circle cx="346.7" cy="399.2" r="1.75"/>
<circle cx="351.35" cy="396.7" r="1.75"/>
<circle cx="354.2" cy="398.65" r="1.75"/>
<circle cx="345" cy="401.5" r="1.75"/>
<circle cx="348.5" cy="402.7" r="1.75"/>
<circle cx="342.7" cy="404.1" r="1.75"/>
<circle cx="347.3" cy="403.6" r="1.75"/>
<circle cx="350.2" cy="402.45" r="1.75"/>
<rect x="366.35" y="368.7" width="18.45" height="25.7" fill="#14528a"/>
<line x1="375.8" y1="378.2" x2="375.8" y2="402.7" stroke="#000" stroke-width="1"/>
<line x1="371.45" y1="378.2" x2="380.15" y2="378.2" stroke="#000" stroke-width="1"/>
<line x1="371.45" y1="402.7" x2="380.15" y2="402.7" stroke="#000" stroke-width="1"/>
<circle cx="375.8" cy="378.5" r="1.75"/>
<circle cx="375.8" cy="383.1" r="1.75"/>
<circle cx="371.5" cy="394.4" r="1.75"/>
<circle cx="379.4" cy="392.5" r="1.75"/>
<circle cx="379.4" cy="396.7" r="1.75"/>
<rect x="395.6" y="323.2" width="18" height="45.5" fill="#c41230"/>
<circle cx="406.6" cy="310.5" r="1.75"/>
<circle cx="402.9" cy="314.35" r="1.75"/>
<circle cx="400.1" cy="318.3" r="1.75"/>
<circle cx="404.1" cy="319" r="1.75"/>
<circle cx="408.3" cy="318.3" r="1.75"/>
<circle cx="412.5" cy="318.3" r="1.75"/>
<circle cx="396.75" cy="322.2" r="1.75"/>
<circle cx="400.5" cy="321.8" r="1.75"/>
<circle cx="406.9" cy="321.8" r="1.75"/>
<circle cx="412.5" cy="322.8" r="1.75"/>
<circle cx="403.4" cy="325.3" r="1.75"/>
<circle cx="402.65" cy="329.5" r="1.75"/>
<circle cx="406.2" cy="328.1" r="1.75"/>
<circle cx="409.7" cy="329.5" r="1.75"/>
<circle cx="404.1" cy="332.35" r="1.75"/>
<circle cx="400.55" cy="335.9" r="1.75"/>
<circle cx="404.1" cy="336.85" r="1.75"/>
<circle cx="407.6" cy="334.9" r="1.75"/>
<circle cx="410.4" cy="334.9" r="1.75"/>
<circle cx="403.4" cy="338" r="1.75"/>
<circle cx="402.9" cy="344.7" r="1.75"/>
<circle cx="406.2" cy="344.3" r="1.75"/>
<rect x="424.9" y="340.35" width="18.25" height="28.35" fill="#14528a"/>
<line x1="434.3" y1="326.7" x2="434.3" y2="363.6" stroke="#000" stroke-width="1"/>
<line x1="430.05" y1="326.7" x2="438.55" y2="326.7" stroke="#000" stroke-width="1"/>
<line x1="430.05" y1="363.6" x2="438.55" y2="363.6" stroke="#000" stroke-width="1"/>
<circle cx="426.3" cy="326.7" r="1.75"/>
<circle cx="442" cy="329.25" r="1.75"/>
<circle cx="434.3" cy="332.1" r="1.75"/>
<circle cx="434.3" cy="360.5" r="1.75"/>
<circle cx="426.3" cy="363.3" r="1.75"/>
<circle cx="442" cy="362.6" r="1.75"/>
<rect x="454.3" y="313.2" width="18.1" height="55.5" fill="#c41230"/>
<line x1="463.4" y1="304.4" x2="463.4" y2="321" stroke="#000" stroke-width="1"/>
<circle cx="463.6" cy="296.7" r="1.75"/>
<circle cx="455.6" cy="303.6" r="1.75"/>
<circle cx="460.4" cy="302.5" r="1.75"/>
<circle cx="466" cy="305.2" r="1.75"/>
<circle cx="471.3" cy="304.4" r="1.75"/>
<circle cx="458.8" cy="306" r="1.75"/>
<circle cx="462.8" cy="307.3" r="1.75"/>
<circle cx="457.2" cy="308.9" r="1.75"/>
<circle cx="468.4" cy="308.9" r="1.75"/>
<circle cx="455.3" cy="311.6" r="1.75"/>
<circle cx="461.2" cy="311.6" r="1.75"/>
<circle cx="466" cy="310.8" r="1.75"/>
<circle cx="470.8" cy="311.6" r="1.75"/>
<circle cx="458" cy="313.2" r="1.75"/>
<circle cx="463.6" cy="313.2" r="1.75"/>
<circle cx="460.4" cy="318.5" r="1.75"/>
<circle cx="466" cy="318.5" r="1.75"/>
<circle cx="463.3" cy="321.2" r="1.75"/>
<circle cx="462" cy="326.5" r="1.75"/>
<circle cx="464.4" cy="324.4" r="1.75"/>
<rect x="483.6" y="315.3" width="18.7" height="53.4" fill="#14528a"/>
<line x1="492.7" y1="304.4" x2="492.7" y2="319.6" stroke="#000" stroke-width="1"/>
<line x1="488.4" y1="304.4" x2="497.2" y2="304.4" stroke="#000" stroke-width="1"/>
<circle cx="489.2" cy="314.3" r="1.75"/>
<circle cx="496.9" cy="314.3" r="1.75"/>
<circle cx="489.2" cy="320.1" r="1.75"/>
<circle cx="496.9" cy="319.6" r="1.75"/>
<line x1="327.55" y1="368.7" x2="512.8" y2="368.7" stroke="#000" stroke-width="1.3" stroke-dasharray="2.3 1.9"/>
<line x1="336.2" y1="319" x2="384.9" y2="319" stroke="#000" stroke-width="1"/>
<line x1="336.2" y1="317.4" x2="336.2" y2="320.6" stroke="#000" stroke-width="1"/>
<line x1="384.9" y1="317.4" x2="384.9" y2="320.6" stroke="#000" stroke-width="1"/>
<text x="360.3" y="316" font-size="6.9" text-anchor="middle" textLength="40.6" lengthAdjust="spacingAndGlyphs">p = 0.3432</text>
<line x1="395.8" y1="297.8" x2="446.5" y2="297.8" stroke="#000" stroke-width="1"/>
<line x1="395.8" y1="296.2" x2="395.8" y2="299.4" stroke="#000" stroke-width="1"/>
<line x1="446.5" y1="296.2" x2="446.5" y2="299.4" stroke="#000" stroke-width="1"/>
<text x="421.15" y="294.4" font-size="6.9" text-anchor="middle" textLength="39.3" lengthAdjust="spacingAndGlyphs">p = 0.0171</text>
<line x1="456.5" y1="287.85" x2="503.8" y2="287.85" stroke="#000" stroke-width="1"/>
<line x1="456.5" y1="286.25" x2="456.5" y2="289.45" stroke="#000" stroke-width="1"/>
<line x1="503.8" y1="286.25" x2="503.8" y2="289.45" stroke="#000" stroke-width="1"/>
<text x="479.4" y="284.4" font-size="6.9" text-anchor="middle" textLength="40.4" lengthAdjust="spacingAndGlyphs">p = 0.2902</text>
<rect x="0" y="0" width="1.4" height="512" fill="#000"/>
<rect x="0" y="0" width="520" height="1.2" fill="#000"/>
<rect x="518.5" y="0" width="1.5" height="512" fill="#000"/>
<rect x="0" y="510.7" width="520" height="1.3" fill="#000"/>
</svg>
</body></html>
